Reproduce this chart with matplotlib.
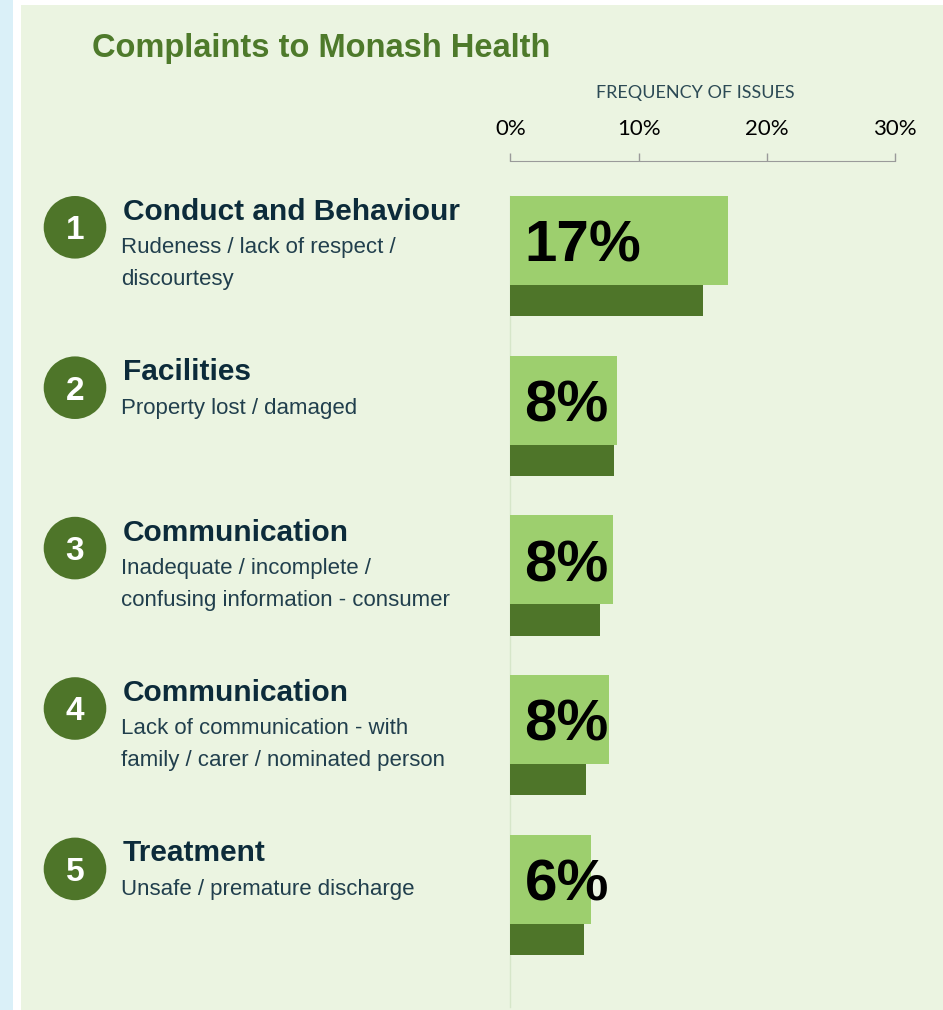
import matplotlib

matplotlib.use("Agg")
import matplotlib.pyplot as plt
from matplotlib.patches import Circle, Rectangle

# Daten
nummern = ["1", "2", "3", "4", "5"]
kategorien = ["Conduct and Behaviour", "Facilities", "Communication", "Communication", "Treatment"]
beschreibungen = [
    ["Rudeness / lack of respect /", "discourtesy"],
    ["Property lost / damaged"],
    ["Inadequate / incomplete /", "confusing information - consumer"],
    ["Lack of communication - with", "family / carer / nominated person"],
    ["Unsafe / premature discharge"],
]
werte_hell = [17.0, 8.3, 8.0, 7.7, 6.3]
werte_dunkel = [15.0, 8.1, 7.0, 5.9, 5.75]
wert_labels = ["17%", "8%", "8%", "8%", "6%"]
achsen_ticks = [0, 10, 20, 30]

HELL = "#9dcf6e"
DUNKEL = "#4e7529"
PANEL = "#ebf4e1"
TITEL_GRUEN = "#4e7a2b"
NAVY = "#0c2b3a"
SLATE = "#213f4d"

W, H = 943, 1010
fig = plt.figure(figsize=(W / 100, H / 100), dpi=100)
fig.patch.set_facecolor("white")
tr = fig.dpi_scale_trans


def P(x, y):
    # Pixelkoordinaten (oben links) -> Zoll (unten links)
    return x / 100, (H - y) / 100


# Hintergrund: blauer Streifen + grünes Panel (hinter der Achse)
fig.add_artist(Rectangle(P(0, H), 13.4 / 100, H / 100, transform=tr, color="#daf0f8",
                         lw=0, zorder=-10))
fig.add_artist(Rectangle(P(21, H), (W - 21) / 100, (H - 4.6) / 100, transform=tr,
                         color=PANEL, lw=0, zorder=-10))

fig.text(*P(92, 48), "Complaints to Monash Health", transform=tr, fontsize=23.5,
         fontweight="bold", color=TITEL_GRUEN, family="Liberation Sans", va="center")

# Balken-Achse
ax_top, ax_bot = 160.7, 1007
ax = fig.add_axes([510.3 / W, 1 - ax_bot / H, (895 - 510.3) / W, (ax_bot - ax_top) / H])
ax.set_facecolor("none")
ax.set_xlim(0, 30)
ax.set_ylim(4.8, -0.5)

y = list(range(len(werte_hell)))
ax.barh(y, werte_hell, height=0.557, color=HELL, zorder=2)
ax.barh([i + 0.376 for i in y], werte_dunkel, height=0.195, color=DUNKEL, zorder=1)
ax.plot([0, 0], [-0.278, 4.8], color="#d6e6c9", lw=1, zorder=0, clip_on=False)

for i, lab in enumerate(wert_labels):
    ax.annotate(lab, (0, i), xytext=(10.2, -15.2), textcoords="offset points",
                fontsize=42, fontweight="bold", family="Liberation Sans",
                va="baseline", ha="left", zorder=3)

ax.xaxis.tick_top()
ax.set_xticks(achsen_ticks)
ax.set_xticklabels([f"{t}%" for t in achsen_ticks], family="Lato", fontsize=16)
ax.tick_params(axis="x", direction="out", length=5.8, width=1, color="#9a9a9a", pad=10)
ax.set_yticks([])
for s in ["left", "right", "bottom"]:
    ax.spines[s].set_visible(False)
ax.spines["top"].set_color("#9a9a9a")

fig.text(*P(695, 93), "FREQUENCY OF ISSUES", transform=tr, fontsize=13, family="Lato",
         color="#2c4a55", ha="center", va="center")

# Kategorien links
for i, (num, kat, zeilen) in enumerate(zip(nummern, kategorien, beschreibungen)):
    yk = 209.3 + 160.4 * i
    fig.add_artist(Circle(P(75, yk + 18), 31.3 / 100, transform=tr, color=DUNKEL, lw=0))
    fig.text(*P(75, yk + 18 + 12), num, transform=tr, fontsize=24, fontweight="bold",
             color="white", family="Liberation Sans", ha="center", va="baseline")
    fig.text(*P(122.5, yk + 10.5), kat, transform=tr, fontsize=21.5, fontweight="bold",
             color=NAVY, family="Liberation Sans", va="baseline")
    for j, z in enumerate(zeilen):
        fig.text(*P(121, yk + 44 + 31.5 * j), z, transform=tr, fontsize=16,
                 color=SLATE, family="Liberation Sans", va="baseline")

fig.savefig("out.png", dpi=100)
